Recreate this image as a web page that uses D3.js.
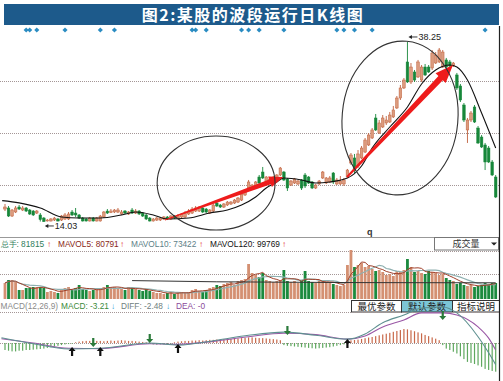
<!DOCTYPE html>
<html>
<head>
<meta charset="utf-8">
<script src="https://cdn.jsdelivr.net/npm/d3@7"></script>
<style>
body { margin: 0; background: #fff; }
svg { display: block; font-family: "Liberation Sans", Arial, sans-serif; }
</style>
</head>
<body>
<div id="chart"></div>
<script>
const title = "图2:某股的波段运行日K线图";

// daily candles
const open = [15.77,15.91,14.83,15.37,16.04,15.64,15.91,15.64,15.50,15.23,
  14.97,14.56,14.16,14.16,14.29,14.43,14.29,14.43,14.43,15.37,
  15.23,14.97,14.56,14.43,14.16,14.56,14.16,14.16,14.70,15.50,
  15.30,15.37,15.37,15.10,15.50,15.10,15.64,15.23,15.50,15.23,
  14.97,14.56,14.16,14.29,14.29,14.43,14.70,14.43,14.83,14.56,
  14.70,14.70,15.10,15.23,15.50,15.50,15.91,15.77,15.23,15.50,
  16.58,16.31,16.04,16.31,16.45,16.58,16.71,16.98,17.66,18.60,
  18.46,18.87,20.08,20.75,19.41,19.27,19.68,19.95,20.35,20.75,
  19.81,19.00,19.27,19.14,19.68,20.35,20.08,19.41,18.60,19.14,
  19.95,19.27,19.41,20.62,19.14,19.14,19.14,20.08,21.96,22.64,
  21.56,22.64,23.44,24.39,25.33,28.02,26.00,26.81,27.35,27.48,
  28.16,29.37,30.71,32.06,35.56,32.87,34.21,33.54,33.13,34.88,
  34.88,34.75,35.42,35.56,34.88,35.83,35.56,35.02,33.81,32.33,
  29.77,26.41,27.75,29.50,26.67,25.46,24.39,23.98,22.10,20.08];
const close = [16.04,14.83,15.64,15.91,15.77,15.91,15.50,15.10,14.97,15.50,
  14.36,14.09,14.29,14.43,14.56,14.16,14.83,14.97,15.10,14.97,
  14.97,14.56,14.16,14.16,14.56,14.16,14.56,14.83,15.37,15.23,
  15.50,15.64,15.64,15.37,15.23,15.37,15.23,15.50,15.10,14.83,
  14.43,14.16,14.43,14.56,14.56,14.70,14.43,14.83,14.56,14.83,
  15.10,15.23,15.50,15.77,15.91,16.04,15.37,15.37,15.64,16.31,
  16.18,16.04,16.45,16.71,16.71,16.98,17.25,17.79,18.33,19.41,
  19.00,19.41,19.27,19.95,20.08,19.81,20.08,20.35,21.29,19.68,
  18.60,19.54,19.81,19.54,18.60,18.87,19.27,18.60,19.00,19.54,
  20.75,19.95,19.95,19.41,19.68,19.54,19.68,21.02,23.04,21.02,
  23.18,23.98,25.06,25.73,26.41,26.41,27.35,28.02,27.75,28.42,
  29.10,30.71,32.06,33.13,32.87,34.88,33.13,35.56,34.88,33.81,
  34.21,36.77,36.50,37.17,36.90,34.88,35.02,35.42,32.06,30.44,
  27.75,27.75,28.69,27.48,24.66,24.12,22.10,22.10,20.35,17.39];
const high = [16.45,16.18,15.77,16.18,16.31,16.18,16.04,15.77,15.64,15.64,
  15.23,14.70,14.43,14.56,14.70,14.56,14.97,15.23,15.37,15.64,
  15.91,15.10,14.70,14.56,14.70,14.70,14.70,14.97,15.50,15.77,
  15.77,15.77,15.91,15.64,15.64,15.50,15.91,15.77,15.64,15.37,
  15.10,14.70,14.56,14.70,14.70,14.83,14.83,14.97,14.97,15.10,
  15.23,15.50,15.77,16.04,16.18,16.18,16.04,15.91,15.77,16.45,
  16.85,16.45,16.58,16.85,16.85,17.12,17.39,17.93,18.46,19.68,
  19.14,19.54,20.35,21.43,20.21,19.95,20.21,20.48,21.43,20.89,
  19.95,19.68,19.95,19.68,19.81,20.62,20.21,19.54,19.14,19.68,
  20.89,20.08,20.21,20.75,19.95,20.21,19.95,21.16,23.31,23.18,
  23.71,24.25,25.33,26.00,26.67,28.56,27.75,28.42,28.29,28.83,
  29.64,30.98,32.46,33.40,38.25,35.42,34.48,35.83,35.15,35.29,
  35.15,37.17,36.90,37.44,37.17,36.10,35.83,35.56,34.08,32.60,
  30.04,28.02,28.96,29.77,26.94,25.73,24.66,24.25,22.37,20.35];
const low = [15.50,14.70,14.70,15.23,15.64,15.50,15.37,14.97,14.83,15.10,
  14.09,14.03,14.09,14.09,14.16,14.09,14.16,14.29,14.29,14.83,
  14.70,14.43,14.09,14.09,14.09,14.09,14.09,14.09,14.56,15.10,
  15.23,15.23,15.23,14.97,15.10,14.97,15.10,15.10,14.97,14.70,
  14.29,14.09,14.09,14.16,14.16,14.29,14.29,14.29,14.43,14.43,
  14.56,14.56,14.97,15.10,15.37,15.37,15.23,15.23,15.10,15.37,
  16.04,15.91,15.91,16.18,16.31,16.45,16.58,16.85,17.52,18.46,
  18.33,18.73,19.14,19.81,19.27,19.14,19.54,19.81,20.21,19.54,
  18.20,18.87,19.14,19.00,18.33,18.60,19.14,18.46,18.46,19.00,
  19.81,19.14,19.27,19.14,19.00,19.00,18.87,19.95,21.70,20.62,
  21.29,22.50,23.31,24.25,25.19,26.27,25.87,26.67,27.08,27.35,
  28.02,29.23,30.44,31.92,32.73,32.60,32.87,33.40,32.87,33.67,
  34.08,34.48,35.29,35.42,34.75,34.75,34.88,34.88,31.79,30.17,
  27.48,24.66,27.48,27.35,24.52,23.98,21.02,21.96,20.21,17.25];

// volume, thousand shares
const volume = [80,95,95,85,45,45,55,55,60,60,
  60,55,35,40,35,30,50,55,60,45,
  55,70,50,45,40,45,50,55,60,70,
  55,60,55,50,45,60,55,50,45,40,
  50,40,35,30,30,25,30,35,25,30,
  35,30,35,45,50,40,35,45,55,60,
  70,65,75,80,85,70,90,95,100,175,
  130,120,110,130,95,90,85,90,95,145,
  90,85,90,80,95,140,90,85,80,90,
  90,85,80,75,70,65,70,170,245,160,
  170,180,160,165,150,140,145,135,120,125,
  115,140,135,145,200,160,135,140,130,125,
  140,135,130,120,125,105,95,90,75,80,
  70,65,70,60,65,70,80,75,80,80];

// MACD histogram
const macdHist = [-1.0,-1.1,-1.2,-1.2,-1.1,-1.1,-1.0,-1.0,-0.95,-0.9,
  -0.85,-0.8,-0.7,-0.6,-0.5,-0.4,-0.3,-0.2,-0.15,-0.1,
  0.1,0.2,0.25,0.3,0.3,0.35,0.3,0.3,0.25,0.3,
  0.35,0.3,0.35,0.4,0.35,0.3,0.3,0.25,0.2,0.15,
  0.1,-0.1,-0.2,-0.25,-0.2,-0.2,-0.15,-0.1,0.1,0.2,
  0.25,0.3,0.3,0.35,0.35,0.4,0.35,0.4,0.45,0.45,
  0.5,0.5,0.55,0.55,0.6,0.6,0.65,0.7,0.75,0.8,
  0.8,0.75,0.7,0.7,0.65,0.6,0.55,0.5,0.4,-0.3,
  -0.4,-0.45,-0.5,-0.55,-0.6,-0.65,-0.7,-0.75,-0.8,-0.75,
  -0.7,-0.65,-0.6,-0.5,-0.4,-0.3,-0.2,0.3,0.38,0.43,
  0.48,0.58,0.68,0.78,0.86,0.98,1.1,1.22,1.33,1.45,
  1.6,1.72,1.85,2.0,1.95,1.82,1.68,1.52,1.38,1.15,
  0.98,0.8,0.62,0.4,-0.3,-0.8,-1.0,-1.25,-1.5,-1.9,
  -2.3,-2.7,-2.85,-3.0,-3.2,-3.4,-3.7,-3.85,-4.0,-4.1];

// [day index, value] readings of the smooth lines
const maPoints = [[-0.8,16.9],[4,16.6],[10,15.91],[16,14.70],[21,14.56],[27,14.56],[33,14.97],[37,15.37],
  [42,14.97],[46,14.43],[52,14.56],[58,15.23],[63,15.64],[67,16.31],[71,17.39],[74,18.60],[77,19.41],
  [79,19.94],[84,19.68],[88,19.27],[92,19.41],[97,19.94],[101,21.56],[104,23.98],[109,26.81],
  [114,29.50],[118,32.60],[122,34.48],[126,35.15],[128,34.88],[131,33.13],[135,28.69],[139,23.98]];
const mavol120Points = [[36,92],[60,86],[100,82],[139,81]];
const diffPoints = [[-1,0.75],[8,-0.1],[18,-0.85],[27,-0.75],[41,0.0],[49,-0.3],[60,0.4],[69,1.1],[79,1.55],
  [88,1.1],[97,0.55],[102,1.3],[107,2.9],[113,4.0],[118,5.0],[124,5.15],[128,4.3],[134,0.9],[137,-1.4],[139,-3.1]];
const deaPoints = [[-1,0.6],[8,0.0],[18,-0.75],[27,-0.8],[41,-0.1],[49,-0.2],[60,0.3],[69,0.9],[79,1.4],
  [88,1.2],[97,0.55],[102,1.0],[107,2.3],[113,3.3],[118,4.3],[124,4.3],[128,4.0],[134,2.3],[137,0.7],[139,-1.0]];

const signalDays = [6,7,9,17,27,31,53,54,57,67,69,72,79,94,96,99,104,136];
const crossUp = [[19,-0.57],[27,-0.57],[49,-0.14],[97,0.57]];
const crossDown = [[25,-0.57],[41,0],[80,1.14],[124,3.29]];

const priceGrid = [33, 26, 19];
const volGrid = [240, 125];

// annotations in data space
const zones = [{cx:59.8, cy:19.27, ri:16.7, rp:6.33, rot:0}, {cx:111.9, cy:28.02, ri:16.4, rp:10.36, rot:5}];
const trends = [{from:[45.3,14.3], to:[78.8,20.08]}, {from:[96.9,20.08], to:[126.9,35.15]}];
const trendStyle = [{w0:1, w1:5, hw:11, head:14}, {w0:2, w1:6, hw:14, head:18}];

const W = 503, H = 381;
const svg = d3.select("#chart").append("svg").attr("width", W).attr("height", H);

const n = close.length;
const x = d3.scaleLinear().domain([0, n - 1]).range([5, 495.7]);
const y = d3.scaleLinear().domain([12.68, 40.13]).range([232, 28]);
const yVol = d3.scaleLinear().domain([0, 250]).range([299, 249]);
const yMacd = d3.scaleLinear().domain([-5.43, 4.43]).range([381, 312]);

const upFill = "#dc9b7d", upLine = "#c0603c", downFill = "#17873a";
const isUp = i => close[i] >= open[i];
const dotted = "#a49696";

// title bar
svg.append("rect").attr("x", 4).attr("y", 4).attr("width", 495).attr("height", 21).attr("fill", "#1d5a8b");
svg.append("text").attr("x", 253).attr("y", 20.5).attr("text-anchor", "middle")
  .attr("fill", "#fff").attr("font-family", "'Noto Sans CJK SC', sans-serif")
  .attr("font-weight", "bold").attr("font-size", 16).attr("letter-spacing", 1.5).text(title);

// signal diamonds
svg.append("g").selectAll("rect").data(signalDays).join("rect")
  .attr("x", -1.8).attr("y", -1.8).attr("width", 3.6).attr("height", 3.6)
  .attr("transform", d => `translate(${x(d)},30) rotate(45)`)
  .attr("fill", "#2a8cc2");

// price grid
svg.append("g").selectAll("line").data(priceGrid).join("line")
  .attr("x1", 0).attr("x2", 499)
  .attr("y1", d => Math.round(y(d)) + 0.5).attr("y2", d => Math.round(y(d)) + 0.5)
  .attr("stroke", dotted).attr("stroke-dasharray", "1,1");

// candles
const idx = d3.range(n);
const candles = svg.append("g");
candles.selectAll("line").data(idx).join("line")
  .attr("x1", i => x(i)).attr("x2", i => x(i))
  .attr("y1", i => y(high[i])).attr("y2", i => y(low[i]))
  .attr("stroke", i => isUp(i) ? upLine : downFill).attr("stroke-width", 0.9);
candles.selectAll("rect").data(idx).join("rect")
  .attr("x", i => x(i) - 1.3).attr("width", 2.6)
  .attr("y", i => y(Math.max(open[i], close[i])))
  .attr("height", i => Math.max(0.8, Math.abs(y(open[i]) - y(close[i]))))
  .attr("fill", i => isUp(i) ? upFill : downFill)
  .attr("stroke", i => isUp(i) ? upLine : downFill).attr("stroke-width", 0.5);

// moving average
const curve = d3.line().curve(d3.curveMonotoneX);
svg.append("path")
  .attr("d", curve.x(d => x(d[0])).y(d => y(d[1]))(maPoints))
  .attr("fill", "none").attr("stroke", "#111").attr("stroke-width", 1.1);

// trend arrows
trends.forEach((a, k) => {
  const s = trendStyle[k];
  const sx = x(a.from[0]), sy = y(a.from[1]), tx = x(a.to[0]), ty = y(a.to[1]);
  const len = Math.hypot(tx - sx, ty - sy), ux = (tx - sx) / len, uy = (ty - sy) / len;
  const nx = -uy, ny = ux, bx = tx - ux * s.head, by = ty - uy * s.head;
  const pts = [[sx + nx * s.w0 / 2, sy + ny * s.w0 / 2], [bx + nx * s.w1 / 2, by + ny * s.w1 / 2],
    [bx + nx * s.hw / 2, by + ny * s.hw / 2], [tx, ty], [bx - nx * s.hw / 2, by - ny * s.hw / 2],
    [bx - nx * s.w1 / 2, by - ny * s.w1 / 2], [sx - nx * s.w0 / 2, sy - ny * s.w0 / 2]];
  svg.append("polygon").attr("points", pts.map(p => p.join(",")).join(" ")).attr("fill", "#ee1c1c");
});

// circled zones
svg.append("g").selectAll("ellipse").data(zones).join("ellipse")
  .attr("cx", 0).attr("cy", 0)
  .attr("rx", d => x(d.cx + d.ri) - x(d.cx)).attr("ry", d => y(d.cy - d.rp) - y(d.cy))
  .attr("transform", d => `translate(${x(d.cx)},${y(d.cy)}) rotate(${d.rot})`)
  .attr("fill", "none").attr("stroke", "#333").attr("stroke-width", 1.1);

// high / low labels
const iHi = d3.maxIndex(high), iLo = d3.minIndex(low);
function priceTag(i, yy, txt) {
  const x0 = x(i) + 1;
  svg.append("line").attr("x1", x0 + 2).attr("x2", x0 + 9).attr("y1", yy).attr("y2", yy)
    .attr("stroke", "#222").attr("stroke-width", 0.9);
  svg.append("path").attr("d", `M${x0},${yy}L${x0 + 3.5},${yy - 2}L${x0 + 3.5},${yy + 2}Z`).attr("fill", "#222");
  svg.append("text").attr("x", x0 + 10).attr("y", yy + 3.2).attr("font-size", 9).attr("fill", "#222").text(txt);
}
priceTag(iHi, y(high[iHi]) - 5, high[iHi].toFixed(2));
priceTag(iLo, y(low[iLo]) + 4, low[iLo].toFixed(2));

svg.append("text").attr("x", 367).attr("y", 234.5).attr("font-size", 9).attr("font-weight", "bold")
  .attr("fill", "#333").text("q");

// volume info line
svg.append("line").attr("x1", 0).attr("x2", 434).attr("y1", 237.5).attr("y2", 237.5).attr("stroke", "#999");
const volInfo = [
  {t: "总手: 81815", c: "#2f7d5a", x: 0.5},
  {t: "↑", c: "#e0200c", x: 47},
  {t: "MAVOL5: 80791", c: "#8a2818", x: 58},
  {t: "↑", c: "#e0200c", x: 120},
  {t: "MAVOL10: 73422", c: "#5d7f88", x: 131},
  {t: "↑", c: "#e0200c", x: 199},
  {t: "MAVOL120: 99769", c: "#111", x: 210},
  {t: "↑", c: "#e0200c", x: 282}
];
svg.append("g").selectAll("text").data(volInfo).join("text")
  .attr("x", d => d.x).attr("y", 246.5).attr("font-size", 8.3)
  .attr("font-weight", d => d.t === "↑" ? "bold" : "normal")
  .attr("fill", d => d.c).text(d => d.t);

// indicator dropdown
svg.append("rect").attr("x", 434.5).attr("y", 237.5).attr("width", 64).attr("height", 12.5)
  .attr("fill", "#fff").attr("stroke", "#777");
svg.append("text").attr("x", 466).attr("y", 247.3).attr("text-anchor", "middle")
  .attr("font-family", "'Noto Sans CJK SC', sans-serif").attr("font-size", 9).attr("fill", "#333").text("成交量");
svg.append("path").attr("d", "M491,242.5L497,242.5L494,245.5Z").attr("fill", "#222");

// volume panel
svg.append("g").selectAll("line").data(volGrid).join("line")
  .attr("x1", 0).attr("x2", 499)
  .attr("y1", d => Math.round(yVol(d)) + 0.5).attr("y2", d => Math.round(yVol(d)) + 0.5)
  .attr("stroke", dotted).attr("stroke-dasharray", "1,1");
svg.append("g").selectAll("rect").data(idx).join("rect")
  .attr("x", i => x(i) - 1.4).attr("width", 2.8)
  .attr("y", i => yVol(volume[i])).attr("height", i => yVol(0) - yVol(volume[i]))
  .attr("fill", i => isUp(i) ? "#d49072" : "#1b8a3e");

function movingAvg(arr, k) {
  return arr.map((_, i) => d3.mean(arr.slice(Math.max(0, i - k + 1), i + 1)));
}
const volLine = d3.line().x((d, i) => x(i)).y(d => yVol(d));
svg.append("path").attr("d", volLine(movingAvg(volume, 10)))
  .attr("fill", "none").attr("stroke", "#8fb0b0").attr("stroke-width", 1.2);
svg.append("path").attr("d", volLine(movingAvg(volume, 5)))
  .attr("fill", "none").attr("stroke", "#a0402a").attr("stroke-width", 1);
svg.append("path")
  .attr("d", d3.line().x(d => x(d[0])).y(d => yVol(d[1]))(mavol120Points))
  .attr("fill", "none").attr("stroke", "#333").attr("stroke-width", 1);

// MACD header
const macdInfo = [
  {t: "MACD(12,26,9)", c: "#8a8a8a", x: 0.5},
  {t: "MACD: -3.21", c: "#3a8a3a", x: 61},
  {t: "↓", c: "#2aa0d8", x: 111},
  {t: "DIFF: -2.48", c: "#6f8080", x: 121},
  {t: "↓", c: "#2aa0d8", x: 166},
  {t: "DEA: -0", c: "#8a4a9a", x: 176}
];
svg.append("g").selectAll("text").data(macdInfo).join("text")
  .attr("x", d => d.x).attr("y", 309).attr("font-size", 8.3)
  .attr("font-weight", d => d.t === "↓" ? "bold" : "normal")
  .attr("fill", d => d.c).text(d => d.t);

const buttons = [{t: "最优参数", x0: 351, x1: 401, on: false}, {t: "默认参数", x0: 401, x1: 452, on: true},
  {t: "指标说明", x0: 452, x1: 499, on: false}];
const btn = svg.append("g").selectAll("g").data(buttons).join("g");
btn.append("rect").attr("x", d => d.x0 + 0.5).attr("y", 300.5).attr("width", d => d.x1 - d.x0).attr("height", 11.5)
  .attr("fill", d => d.on ? "#7cc6d6" : "#fff").attr("stroke", "#333");
btn.append("text").attr("x", d => (d.x0 + d.x1) / 2 + 0.5).attr("y", 309.8).attr("text-anchor", "middle")
  .attr("font-family", "'Noto Sans CJK SC', sans-serif").attr("font-size", 9.5).attr("fill", "#222").text(d => d.t);

// MACD panel
[yMacd.range()[1], yMacd(0)].forEach(v => {
  svg.append("line").attr("x1", 0).attr("x2", 499).attr("y1", Math.round(v) + 0.5).attr("y2", Math.round(v) + 0.5)
    .attr("stroke", dotted).attr("stroke-dasharray", "1,1");
});
svg.append("g").selectAll("rect").data(idx).join("rect")
  .attr("x", i => x(i) - 0.6).attr("width", 1.2)
  .attr("y", i => yMacd(Math.max(0, macdHist[i])))
  .attr("height", i => Math.abs(yMacd(macdHist[i]) - yMacd(0)))
  .attr("fill", i => macdHist[i] >= 0 ? "#c8694a" : "#5fa85f");
const macdLine = d3.line().x(d => x(d[0])).y(d => yMacd(d[1])).curve(d3.curveMonotoneX);
svg.append("path").attr("d", macdLine(deaPoints)).attr("fill", "none").attr("stroke", "#9a58a6").attr("stroke-width", 1.1);
svg.append("path").attr("d", macdLine(diffPoints)).attr("fill", "none").attr("stroke", "#5e9090").attr("stroke-width", 1.1);

svg.append("g").selectAll("path").data(crossUp).join("path")
  .attr("d", d => { const cx = x(d[0]), cy = yMacd(d[1]);
    return `M${cx},${cy}L${cx + 3.5},${cy + 4}L${cx + 1.1},${cy + 4}L${cx + 1.1},${cy + 9}L${cx - 1.1},${cy + 9}L${cx - 1.1},${cy + 4}L${cx - 3.5},${cy + 4}Z`; })
  .attr("fill", "#111");
svg.append("g").selectAll("path").data(crossDown).join("path")
  .attr("d", d => { const cx = x(d[0]), cy = yMacd(d[1]);
    return `M${cx},${cy}L${cx + 3.5},${cy - 4}L${cx + 1.1},${cy - 4}L${cx + 1.1},${cy - 9}L${cx - 1.1},${cy - 9}L${cx - 1.1},${cy - 4}L${cx - 3.5},${cy - 4}Z`; })
  .attr("fill", "#2a7a3a");

// right frame
svg.append("line").attr("x1", 499.5).attr("x2", 499.5).attr("y1", 26).attr("y2", 381)
  .attr("stroke", "#222").attr("stroke-width", 1.2);
</script>
</body>
</html>
